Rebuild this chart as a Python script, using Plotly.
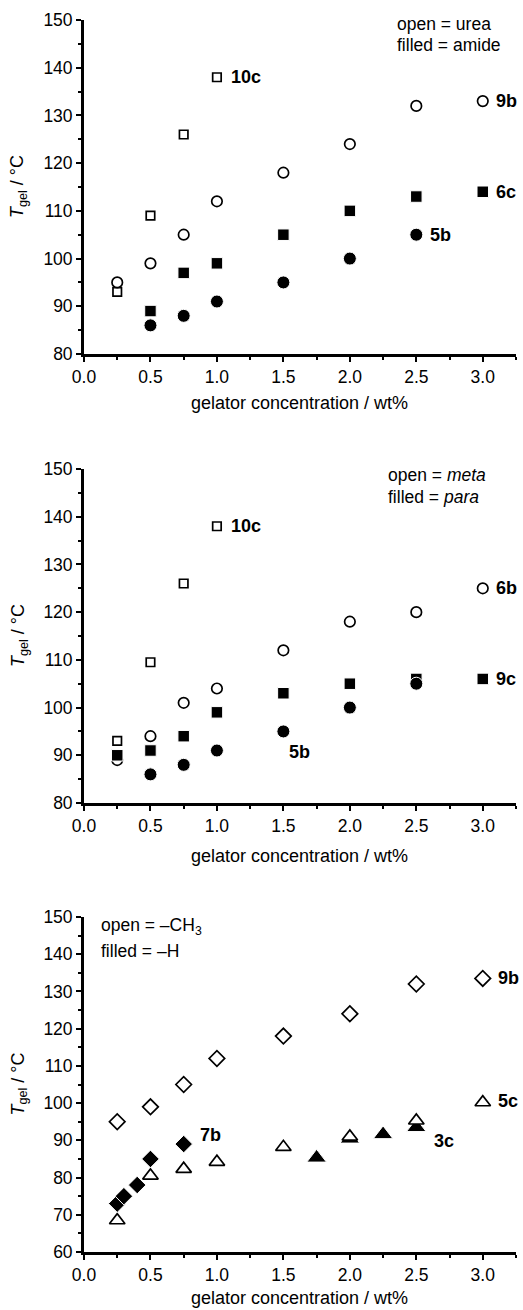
import plotly.graph_objects as go

FONT = "Liberation Sans, Arial, sans-serif"

# ---------------- Panel 1 (urea vs amide) ----------------
p1_sq_open_x = [0.25, 0.5, 0.75, 1.0]
p1_sq_open_y = [93, 109, 126, 138]
p1_ci_open_x = [0.25, 0.5, 0.75, 1.0, 1.5, 2.0, 2.5, 3.0]
p1_ci_open_y = [95, 99, 105, 112, 118, 124, 132, 133]
p1_sq_fill_x = [0.5, 0.75, 1.0, 1.5, 2.0, 2.5, 3.0]
p1_sq_fill_y = [89, 97, 99, 105, 110, 113, 114]
p1_ci_fill_x = [0.5, 0.75, 1.0, 1.5, 2.0, 2.5]
p1_ci_fill_y = [86, 88, 91, 95, 100, 105]

# ---------------- Panel 2 (meta vs para) ----------------
p2_sq_open_x = [0.25, 0.5, 0.75, 1.0]
p2_sq_open_y = [93, 109.5, 126, 138]
p2_ci_open_x = [0.25, 0.5, 0.75, 1.0, 1.5, 2.0, 2.5, 3.0]
p2_ci_open_y = [89, 94, 101, 104, 112, 118, 120, 125]
p2_sq_fill_x = [0.25, 0.5, 0.75, 1.0, 1.5, 2.0, 2.5, 3.0]
p2_sq_fill_y = [90, 91, 94, 99, 103, 105, 106, 106]
p2_ci_fill_x = [0.5, 0.75, 1.0, 1.5, 2.0, 2.5]
p2_ci_fill_y = [86, 88, 91, 95, 100, 105]

# ---------------- Panel 3 (-CH3 vs -H) ----------------
p3_di_open_x = [0.25, 0.5, 0.75, 1.0, 1.5, 2.0, 2.5, 3.0]
p3_di_open_y = [95, 99, 105, 112, 118, 124, 132, 133.5]
p3_tr_open_x = [0.25, 0.5, 0.75, 1.0, 1.5, 2.0, 2.5, 3.0]
p3_tr_open_y = [68.5, 80.5, 82.3, 84.2, 88.2, 91, 95.3, 100.2]
p3_di_fill_x = [0.25, 0.3, 0.4, 0.5, 0.75]
p3_di_fill_y = [73, 75, 78, 85, 89]
p3_tr_fill_x = [1.75, 2.0, 2.25, 2.5]
p3_tr_fill_y = [85.3, 90.4, 91.6, 93.5]

# tick values / labels
x_ticks = [0.0, 0.5, 1.0, 1.5, 2.0, 2.5, 3.0]
x_tick_labels = ["0.0", "0.5", "1.0", "1.5", "2.0", "2.5", "3.0"]
y_ticks_12 = [80, 90, 100, 110, 120, 130, 140, 150]
y_ticks_3 = [60, 70, 80, 90, 100, 110, 120, 130, 140, 150]

# geometry (pixels)
W, H = 523, 1310
ML, MR, MT, MB = 84, 7, 20, 58
PH = H - MT - MB
def dom(top_px, bot_px):
    return [(H - MB - bot_px) / PH, (H - MB - top_px) / PH]

panels = [
    dict(top=20, bot=354, yr=[80, 150], yt=y_ticks_12, xt=49),
    dict(top=469, bot=803, yr=[80, 150], yt=y_ticks_12, xt=53),
    dict(top=917, bot=1252, yr=[60, 150], yt=y_ticks_3, xt=46),
]

fig = go.Figure()

def open_marker(symbol, size):
    return dict(symbol=symbol, size=size, color="white",
                line=dict(color="black", width=1.7))

def fill_marker(symbol, size):
    return dict(symbol=symbol, size=size, color="black",
                line=dict(color="white", width=1.0))

def add(x, y, marker, ax):
    fig.add_trace(go.Scatter(x=x, y=y, mode="markers", marker=marker,
                             xaxis="x" + ax, yaxis="y" + ax,
                             showlegend=False, cliponaxis=False,
                             hoverinfo="x+y"))

# panel 1
add(p1_sq_open_x, p1_sq_open_y, open_marker("square", 8.5), "")
add(p1_ci_open_x, p1_ci_open_y, open_marker("circle", 10.5), "")
add(p1_sq_fill_x, p1_sq_fill_y, fill_marker("square", 11.5), "")
add(p1_ci_fill_x, p1_ci_fill_y, fill_marker("circle", 13), "")
# panel 2
add(p2_sq_open_x, p2_sq_open_y, open_marker("square", 8.5), "2")
add(p2_ci_open_x, p2_ci_open_y, open_marker("circle", 10.5), "2")
add(p2_sq_fill_x, p2_sq_fill_y, fill_marker("square", 11.5), "2")
add(p2_ci_fill_x, p2_ci_fill_y, fill_marker("circle", 13), "2")
# panel 3
add(p3_di_open_x, p3_di_open_y, open_marker("diamond", 12), "3")
add(p3_tr_fill_x, p3_tr_fill_y, fill_marker("triangle-up", 17), "3")
add(p3_tr_open_x, p3_tr_open_y, open_marker("triangle-up", 13.5), "3")
add(p3_di_fill_x, p3_di_fill_y, fill_marker("diamond", 13.5), "3")

TICK_FS = 17.5
layout = dict(width=W, height=H, paper_bgcolor="white", plot_bgcolor="white",
              margin=dict(l=ML, r=MR, t=MT, b=MB),
              font=dict(family=FONT, size=TICK_FS, color="black"),
              showlegend=False)

for i, p in enumerate(panels):
    sfx = "" if i == 0 else str(i + 1)
    layout["xaxis" + sfx] = dict(
        range=[0, 3.25], domain=[0, 1], anchor="y" + sfx,
        tickvals=x_ticks, ticktext=x_tick_labels,
        ticks="outside", ticklen=5, tickwidth=2, tickcolor="black",
        minor=dict(dtick=0.25, tick0=0, ticks="outside", ticklen=3,
                   tickwidth=2, tickcolor="black"),
        showline=True, linecolor="black", linewidth=2.8,
        showgrid=False, zeroline=False,
        tickfont=dict(size=TICK_FS, family=FONT, color="black"))
    layout["yaxis" + sfx] = dict(
        range=p["yr"], domain=dom(p["top"], p["bot"]), anchor="x" + sfx,
        tickvals=p["yt"], ticktext=[str(v) for v in p["yt"]],
        ticks="outside", ticklen=5, tickwidth=2, tickcolor="black",
        minor=dict(dtick=5, tick0=0, ticks="outside", ticklen=3,
                   tickwidth=2, tickcolor="black"),
        showline=True, linecolor="black", linewidth=2.8,
        showgrid=False, zeroline=False,
        tickfont=dict(size=TICK_FS, family=FONT, color="black"))

fig.update_layout(**layout)

ann = []
def panel_text(i, txt, x_px, y_px, size=17.5, anchor="left", angle=0):
    sfx = "" if i == 0 else str(i + 1)
    p = panels[i]
    xd = (x_px - ML) / (W - ML - MR)
    yd = (p["bot"] - y_px) / (p["bot"] - p["top"])
    ann.append(dict(text=txt,
                    xref="x%s domain" % sfx, yref="y%s domain" % sfx,
                    x=xd, y=yd, xanchor=anchor, yanchor="middle",
                    showarrow=False, textangle=angle,
                    font=dict(family=FONT, size=size, color="black")))

def data_label(i, txt, x, y, xshift=0):
    sfx = "" if i == 0 else str(i + 1)
    ann.append(dict(text="<b>%s</b>" % txt, xref="x" + sfx, yref="y" + sfx,
                    x=x, y=y, xanchor="left", yanchor="middle",
                    xshift=xshift, showarrow=False,
                    font=dict(family=FONT, size=18, color="black")))

for i, p in enumerate(panels):
    panel_text(i, "gelator concentration / wt%", 299, p["bot"] + p["xt"], size=18, anchor="center")
    panel_text(i, "<i>T</i><sub>gel</sub> / °C", 19, (p["top"] + p["bot"]) / 2,
               size=18, anchor="center", angle=-90)

panel_text(0, "open = urea", 395, 24)
panel_text(0, "filled = amide", 395, 45)
panel_text(1, "open = <i>meta</i>", 386, 475)
panel_text(1, "filled = <i>para</i>", 386, 497)
panel_text(2, "open = –CH<sub>3</sub>", 99, 926)
panel_text(2, "filled = –H", 99, 951)

data_label(0, "10c", 1.0, 138, 12)
data_label(0, "9b", 3.0, 133, 11)
data_label(0, "6c", 3.0, 114, 11)
data_label(0, "5b", 2.5, 105, 12)
data_label(1, "10c", 1.0, 138, 12)
data_label(1, "6b", 3.0, 125, 11)
data_label(1, "9c", 3.0, 106, 11)
data_label(1, "5b", 1.53, 90.7)
data_label(2, "9b", 3.0, 133.5, 13)
data_label(2, "5c", 3.0, 100.5, 13)
data_label(2, "7b", 0.86, 91.5)
data_label(2, "3c", 2.62, 89.8)

fig.update_layout(annotations=ann)
fig.write_html("out.html",
               config={"displayModeBar": False},
               post_script="document.body.style.margin='0';"
                           "document.body.style.overflow='hidden';")
